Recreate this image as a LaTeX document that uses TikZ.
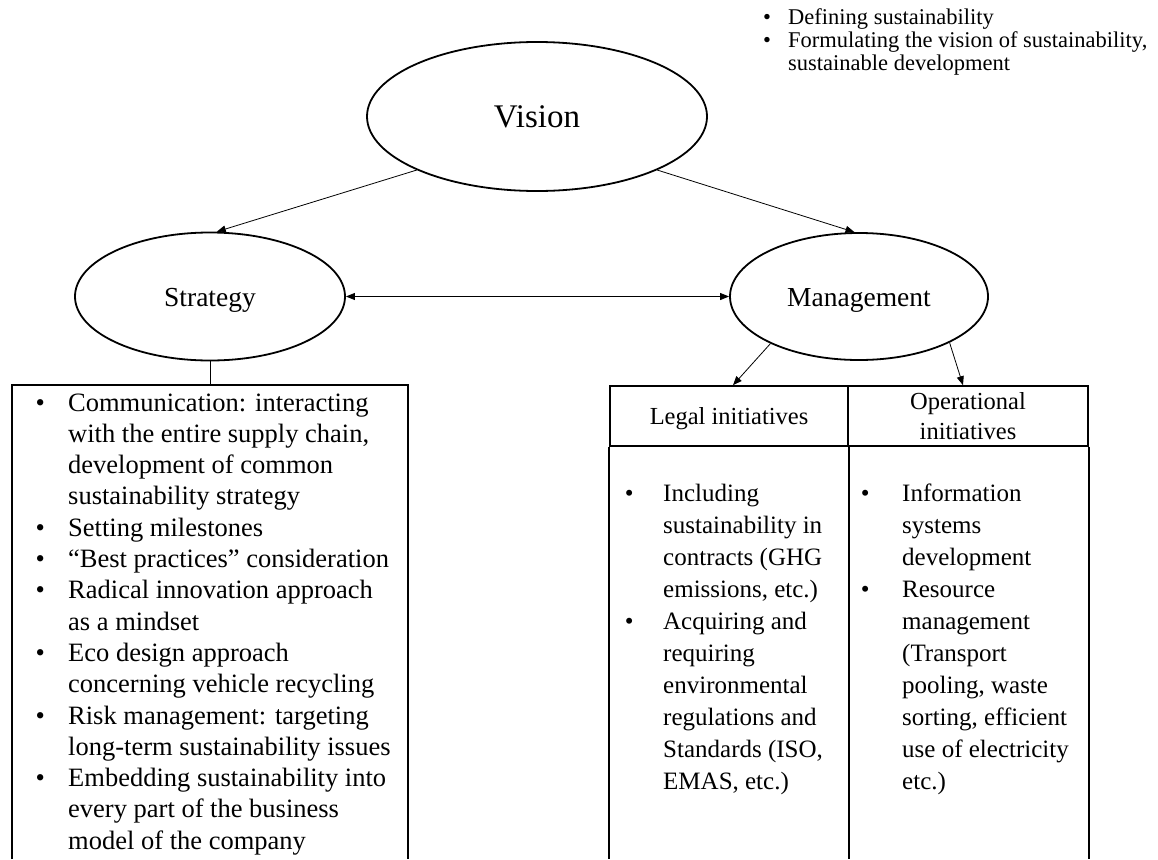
\documentclass[tikz,border=0pt]{standalone}
\usepackage{fontspec}
\setmainfont{Liberation Serif}
\usetikzlibrary{shapes.geometric,arrows.meta}
\tikzset{
  oval/.style={ellipse, draw, line width=1.8pt, inner sep=0pt},
  tip/.tip={Triangle[length=9pt,width=7pt]},
  conn/.style={line width=0.8pt, -tip},
  frame/.style={line width=1.6pt},
  cell/.style={draw, line width=1.6pt, inner sep=0pt, align=center, font=\fontsize{24.5}{30}\selectfont},
  listtext/.style={anchor=base west, inner sep=0pt, align=left},
}
\begin{document}
\begin{tikzpicture}[x=1pt,y=-1pt]
\useasboundingbox (0,0) rectangle (1158,859);

% ellipses
\node[oval, minimum width=340pt, minimum height=149pt, font=\fontsize{33}{38}\selectfont] (vision) at (537,116.5) {Vision};
\node[oval, minimum width=270pt, minimum height=128pt, text height=20pt, text depth=1pt, font=\fontsize{27.5}{32}\selectfont] (strategy) at (210,296.5) {Strategy};
\node[oval, minimum width=258pt, minimum height=127pt, text height=20pt, text depth=1pt, font=\fontsize{27.5}{32}\selectfont] (management) at (859,296.5) {Management};

% top-right notes
\node[listtext, font=\fontsize{22.5}{23}\selectfont] (visionnotes) at (763,25) {\begin{tabular}[t]{@{}p{25pt}@{}l@{}}
\textbullet & Defining sustainability\\
\textbullet & Formulating the vision of sustainability,\\
 & sustainable development
\end{tabular}};

% left box (open at the bottom)
\coordinate (lboxtop) at (210,385);
\draw[frame] (12,859) -- (12,385) -- (408,385) -- (408,859);
\node[listtext, font=\fontsize{26.5}{31.3}\selectfont] (strattext) at (35.4,411) {\begin{tabular}[t]{@{}p{32.6pt}@{}l@{}}
\textbullet & Communication: interacting\\
 & with the entire supply chain,\\
 & development of common\\
 & sustainability strategy\\
\textbullet & Setting milestones\\
\textbullet & ``Best practices'' consideration\\
\textbullet & Radical innovation approach\\
 & as a mindset\\
\textbullet & Eco design approach\\
 & concerning vehicle recycling\\
\textbullet & Risk management: targeting\\
 & long-term sustainability issues\\
\textbullet & Embedding sustainability into\\
 & every part of the business\\
 & model of the company
\end{tabular}};

% right table
\node[cell, minimum width=238pt, minimum height=60pt, text height=18pt, text depth=2pt] (legal) at (729,416) {Legal initiatives};
\node[cell, minimum width=240pt, minimum height=60pt] (opn) at (968,416) {Operational\\initiatives};
\draw[frame] (legal.south west) -- (legal.south west |- 0,859);
\draw[frame] (legal.south east) -- (legal.south east |- 0,859);
\draw[frame] (opn.south east) -- (opn.south east |- 0,859);

\node[listtext, font=\fontsize{25}{32}\selectfont] (legaltext) at (624.6,501) {\begin{tabular}[t]{@{}p{38.4pt}@{}l@{}}
\textbullet & Including\\
 & sustainability in\\
 & contracts (GHG\\
 & emissions, etc.)\\
\textbullet & Acquiring and\\
 & requiring\\
 & environmental\\
 & regulations and\\
 & Standards (ISO,\\
 & EMAS, etc.)
\end{tabular}};

\node[listtext, font=\fontsize{25}{32}\selectfont] (opntext) at (860.6,501) {\begin{tabular}[t]{@{}p{41.4pt}@{}l@{}}
\textbullet & Information\\
 & systems\\
 & development\\
\textbullet & Resource\\
 & management\\
 & (Transport\\
 & pooling, waste\\
 & sorting, efficient\\
 & use of electricity\\
 & etc.)
\end{tabular}};

% connectors
\draw[conn] (vision.204) -- (strategy.84);
\draw[conn] (vision.336) -- (management.94);
\draw[line width=0.8pt, tip-tip] (strategy.east) -- (management.west);
\draw[line width=0.8pt] (strategy.south) -- (lboxtop);
\draw[conn] (management.208) -- ([xshift=4pt]legal.north);
\draw[conn] (management.333) -- ([xshift=-5pt]opn.north);
\end{tikzpicture}
\end{document}
